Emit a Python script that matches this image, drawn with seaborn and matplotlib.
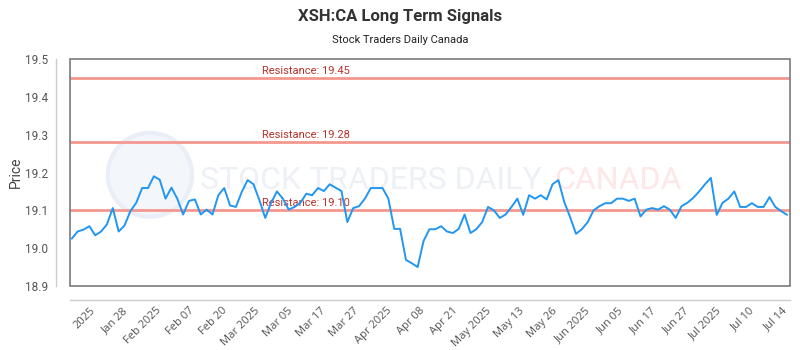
import numpy as np
import pandas as pd
import seaborn as sns
import matplotlib.pyplot as plt
from matplotlib.patches import Ellipse, Rectangle
from matplotlib.ticker import MultipleLocator, FormatStrFormatter

# closing prices (one per trading session)
prices = [
    19.025, 19.044, 19.049, 19.058, 19.034, 19.044, 19.063, 19.106, 19.044, 19.060,
    19.098, 19.120, 19.159, 19.159, 19.190, 19.181, 19.131, 19.160, 19.131, 19.089,
    19.125, 19.129, 19.089, 19.102, 19.089, 19.140, 19.159, 19.113, 19.109, 19.149,
    19.180, 19.169, 19.127, 19.080, 19.120, 19.150, 19.131, 19.102, 19.109, 19.120,
    19.144, 19.140, 19.159, 19.151, 19.169, 19.160, 19.151, 19.069, 19.106, 19.111,
    19.131, 19.159, 19.159, 19.159, 19.131, 19.051, 19.051, 18.969, 18.960, 18.950,
    19.019, 19.050, 19.050, 19.058, 19.044, 19.040, 19.051, 19.089, 19.040, 19.050,
    19.069, 19.109, 19.100, 19.080, 19.089, 19.109, 19.131, 19.088, 19.140, 19.131,
    19.140, 19.129, 19.169, 19.180, 19.122, 19.082, 19.038, 19.050, 19.069, 19.100,
    19.111, 19.119, 19.119, 19.131, 19.131, 19.125, 19.131, 19.084, 19.102, 19.106,
    19.102, 19.111, 19.102, 19.080, 19.111, 19.120, 19.133, 19.150, 19.169, 19.186,
    19.088, 19.120, 19.131, 19.150, 19.109, 19.109, 19.119, 19.109, 19.109, 19.135,
    19.109, 19.098, 19.088,
]

tick_labels = ['2025', 'Jan 28', 'Feb 2025', 'Feb 07', 'Feb 20', 'Mar 2025', 'Mar 05',
               'Mar 17', 'Mar 27', 'Apr 2025', 'Apr 08', 'Apr 21', 'May 2025', 'May 13',
               'May 26', 'Jun 2025', 'Jun 05', 'Jun 17', 'Jun 27', 'Jul 2025', 'Jul 10',
               'Jul 14']

resistance = [19.45, 19.28, 19.10]

df = pd.DataFrame({'day': np.arange(len(prices)), 'price': prices})

sns.set_theme(style='white')
plt.rcParams['font.family'] = ['Roboto', 'DejaVu Sans']

fig = plt.figure(figsize=(8, 3.5), dpi=100)
ax = fig.add_axes([0.0875, 0.183, 0.9, 0.648])

# offset axis lines (done first: moving a spine resets the ticks)
for side in ['top', 'right']:
    ax.spines[side].set_visible(False)
for side in ['left', 'bottom']:
    ax.spines[side].set_position(('outward', 10))
    ax.spines[side].set_color('#cccccc')
    ax.spines[side].set_linewidth(1)

# faint watermark
ax.add_patch(Ellipse((0.111, 0.49), 0.117, 0.37, transform=ax.transAxes,
                     facecolor='#f3f6fb', edgecolor='#eaeef6', lw=3, zorder=0))
ax.text(0.18, 0.467, 'STOCK TRADERS DAILY', transform=ax.transAxes, fontsize=23,
        color='#edf0f5', va='center', ha='left', zorder=0)
ax.text(0.672, 0.467, 'CANADA', transform=ax.transAxes, fontsize=23,
        color='#fde7e7', va='center', ha='left', zorder=0)

# grid
ax.yaxis.set_minor_locator(MultipleLocator(0.2))
ax.grid(which='minor', axis='y', color='#dddddd', linestyle=(0, (2, 3)), lw=0.8)
ax.grid(which='major', visible=False)

for lvl in resistance:
    ax.axhline(lvl, color='#f4978f', lw=2, zorder=1)
    ax.annotate(f'Resistance: {lvl:.2f}', xy=(0.267, lvl),
                xycoords=('axes fraction', 'data'), xytext=(0, 1.5),
                textcoords='offset points', va='bottom', ha='left',
                fontsize=8, color='#b8322a')

sns.lineplot(data=df, x='day', y='price', ax=ax, color='#2196f3', lw=1.4, zorder=3)

ax.set_xlim(-0.3, len(prices) - 0.5)
ax.set_ylim(18.9, 19.5)
ax.yaxis.set_major_locator(MultipleLocator(0.1))
ax.yaxis.set_major_formatter(FormatStrFormatter('%.1f'))
ax.set_xticks(np.linspace(3, len(prices) - 1.8, len(tick_labels)))
ax.set_xticklabels(tick_labels)
ax.tick_params(axis='both', which='both', length=0, colors='#555555', labelsize=8)
ax.tick_params(axis='y', pad=6, labelsize=8.5)
ax.tick_params(axis='x', pad=4)
plt.setp(ax.get_xticklabels(), rotation=45, ha='right', rotation_mode='anchor',
         family=['Open Sans', 'DejaVu Sans'])

ax.set_xlabel('')
ax.set_ylabel('Price', fontsize=10, color='#444444', labelpad=1)

# frame around the plot area
ax.add_patch(Rectangle((0, 0), 1, 1, transform=ax.transAxes, fill=False,
                       edgecolor='#7a7a7a', lw=1.2, clip_on=False, zorder=4))

fig.text(0.5, 1 - 16 / 350, 'XSH:CA Long Term Signals', ha='center', va='center',
         fontsize=12, fontweight='bold', color='#333333')
fig.text(0.5, 1 - 40 / 350, 'Stock Traders Daily Canada', ha='center', va='center',
         fontsize=8, color='#222222')

fig.savefig('out.png', dpi=100)
